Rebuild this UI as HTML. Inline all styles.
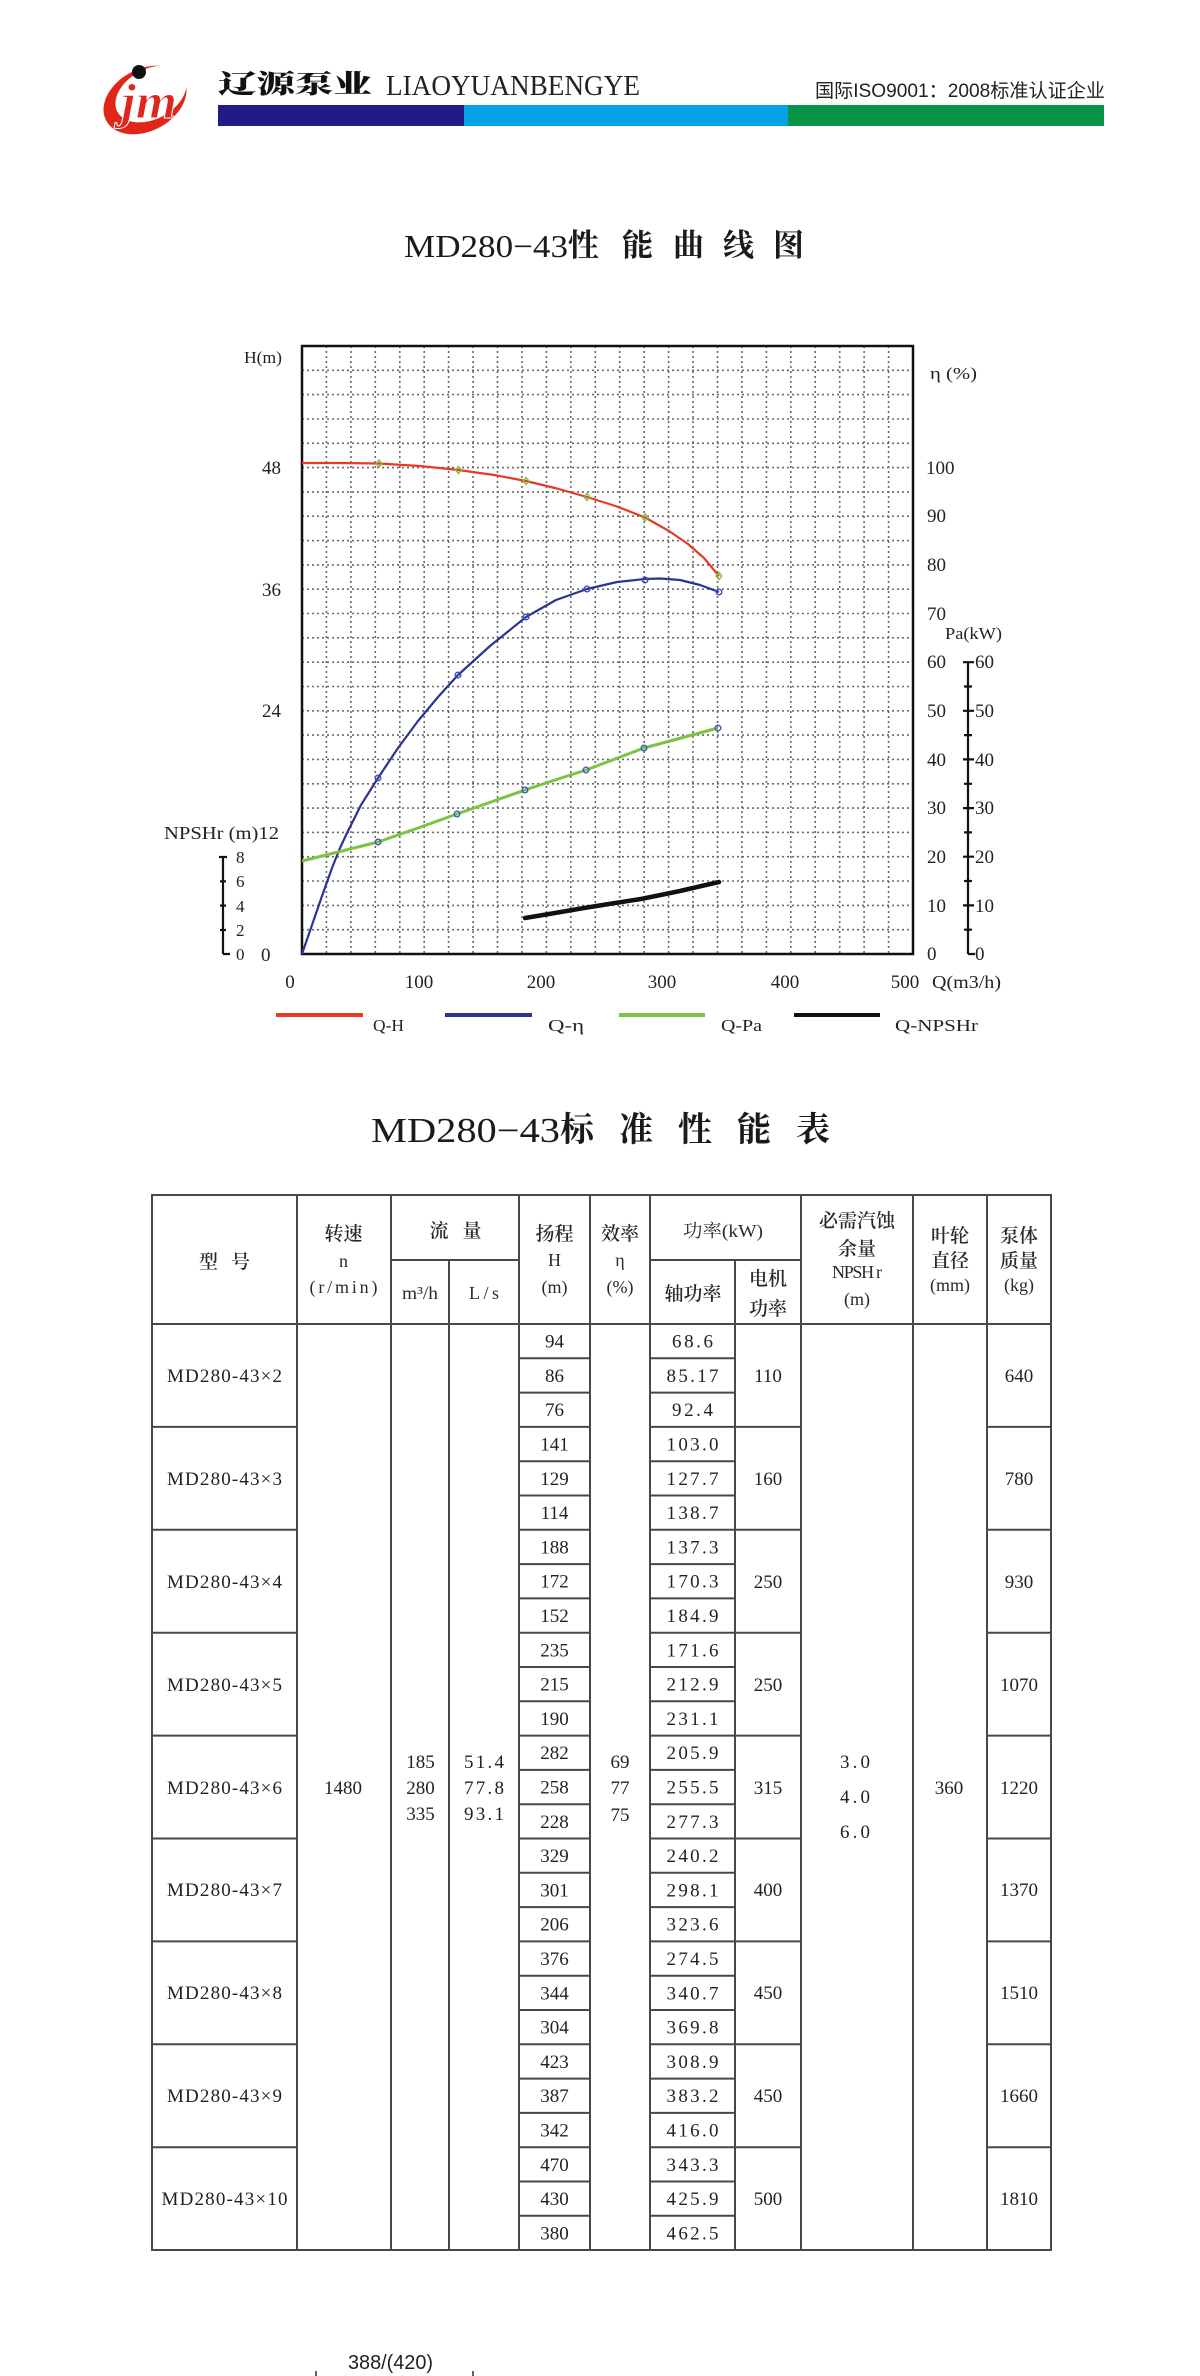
<!DOCTYPE html>
<html>
<head>
<meta charset="utf-8">
<style>
html,body{margin:0;padding:0;background:#fff;}
svg{display:block;}
.s{font-family:"Liberation Serif","Noto Serif CJK SC",serif;}
.c{font-family:"Liberation Serif","Noto Serif CJK SC",serif;}
</style>
</head>
<body>
<svg width="1200" height="2376" viewBox="0 0 1200 2376" xmlns="http://www.w3.org/2000/svg">
<rect width="1200" height="2376" fill="#fff"/>

<!-- ===== Header ===== -->
<g>
  <ellipse cx="145" cy="100" rx="44" ry="31" transform="rotate(-28 145 100)" fill="#e1251b"/>
  <ellipse cx="151" cy="94" rx="38" ry="25" transform="rotate(-28 151 94)" fill="#fff"/>
  <text x="121" y="118" font-family="Liberation Serif" font-style="italic" font-weight="bold" font-size="50" fill="#e1251b" stroke="#fff" stroke-width="1" textLength="56" lengthAdjust="spacingAndGlyphs">jm</text>
  <circle cx="139" cy="72" r="7" fill="#111"/>
</g>
<text x="218" y="93" font-family="Noto Serif CJK SC,serif" font-weight="900" font-size="26" fill="#111" textLength="154" lengthAdjust="spacingAndGlyphs">辽源泵业</text>
<text x="386" y="95" font-family="Liberation Serif,serif" font-size="29" fill="#222" textLength="254" lengthAdjust="spacingAndGlyphs">LIAOYUANBENGYE</text>
<text x="815" y="97" font-family="Liberation Sans,Noto Sans CJK SC,sans-serif" font-size="19" fill="#222" textLength="290" lengthAdjust="spacingAndGlyphs">国际ISO9001：2008标准认证企业</text>
<rect x="218" y="105" width="246" height="21" fill="#1f1c87"/>
<rect x="464" y="105" width="324" height="21" fill="#05a2e8"/>
<rect x="788" y="105" width="316" height="21" fill="#079447"/>

<!-- ===== Chart title ===== -->
<text x="404" y="257" class="s" font-size="32" fill="#1a1a1a" textLength="164" lengthAdjust="spacingAndGlyphs">MD280−43</text>
<g font-family="Noto Serif CJK SC,serif" font-weight="700" font-size="31" fill="#1a1a1a">
  <text x="568" y="256">性</text>
  <text x="622" y="256">能</text>
  <text x="673" y="256">曲</text>
  <text x="723" y="256">线</text>
  <text x="773" y="256">图</text>
</g>

<!-- ===== Chart grid ===== -->
<path fill="none" stroke="#6a6a6a" stroke-width="1.6" stroke-dasharray="2,3"
d="M326.4 346V954M350.9 346V954M375.3 346V954M399.8 346V954M424.2 346V954M448.6 346V954M473.1 346V954M497.5 346V954M522.0 346V954M546.4 346V954M570.8 346V954M595.3 346V954M619.7 346V954M644.2 346V954M668.6 346V954M693.0 346V954M717.5 346V954M741.9 346V954M766.4 346V954M790.8 346V954M815.2 346V954M839.7 346V954M864.1 346V954M888.6 346V954
M302 370.3H913M302 394.6H913M302 419.0H913M302 443.3H913M302 467.6H913M302 491.9H913M302 516.2H913M302 540.6H913M302 564.9H913M302 589.2H913M302 613.5H913M302 637.8H913M302 662.2H913M302 686.5H913M302 710.8H913M302 735.1H913M302 759.4H913M302 783.8H913M302 808.1H913M302 832.4H913M302 856.7H913M302 881.0H913M302 905.4H913M302 929.7H913"/>
<rect x="302" y="346" width="611" height="608" fill="none" stroke="#111" stroke-width="2.5"/>

<!-- ===== Curves ===== -->
<polyline fill="none" stroke="#e63a26" stroke-width="2.2" stroke-linejoin="round"
points="302,463 340,463 379,463.5 420,466 458.5,470 494,475 526,481 557,488.5 587,497 617,506.5 645,517.5 669,531 688,544 704,558 719,576"/>
<g fill="none" stroke="#7cc142" stroke-width="1.4">
  <path d="M379 460l3 3.5-3 3.5-3-3.5z"/><path d="M458.5 466.5l3 3.5-3 3.5-3-3.5z"/><path d="M526 477.5l3 3.5-3 3.5-3-3.5z"/>
  <path d="M587 493.5l3 3.5-3 3.5-3-3.5z"/><path d="M645 514l3 3.5-3 3.5-3-3.5z"/><path d="M719 572.5l3 3.5-3 3.5-3-3.5z"/>
</g>

<polyline fill="none" stroke="#2b3590" stroke-width="2.2" stroke-linejoin="round"
points="302,954 312,925 322,896 332,868 340,848 347,833 361,805 378,778 398,748 418,721 438,697 458,675 490,646 526,617 556,600 587,589 617,582 645,579 660,578.5 680,580 700,585 719,592"/>
<g fill="none" stroke="#3a4cb8" stroke-width="1.4">
  <circle cx="378" cy="778" r="2.8"/><circle cx="458" cy="675" r="2.8"/><circle cx="526" cy="617" r="2.8"/>
  <circle cx="587" cy="589" r="2.8"/><circle cx="645" cy="580" r="2.8"/><circle cx="719" cy="592" r="2.8"/>
</g>

<polyline fill="none" stroke="#7dc242" stroke-width="3" stroke-linejoin="round"
points="302,861 340,851.5 378,842 418,828 457,814 491,802 525,790 555,780 586,770 615,759 644,748 681,738 718,728"/>
<g fill="none" stroke="#3a5cc8" stroke-width="1.4">
  <circle cx="378" cy="842" r="2.8"/><circle cx="457" cy="814" r="2.8"/><circle cx="525" cy="790" r="2.8"/>
  <circle cx="586" cy="770" r="2.8"/><circle cx="644" cy="748" r="2.8"/><circle cx="718" cy="728" r="2.8"/>
</g>

<polyline fill="none" stroke="#111" stroke-width="4.5" stroke-linejoin="round" stroke-linecap="round"
points="525,918 555,913 584,908 612,903.5 641,899 680,891 719,882"/>

<!-- ===== Left axis labels ===== -->
<g class="s" font-size="19" fill="#222">
  <text x="244" y="363" font-size="17" textLength="38" lengthAdjust="spacingAndGlyphs">H(m)</text>
  <text x="281" y="474" text-anchor="end">48</text>
  <text x="281" y="596" text-anchor="end">36</text>
  <text x="281" y="717" text-anchor="end">24</text>
  <text x="164" y="839" font-size="18" textLength="115" lengthAdjust="spacingAndGlyphs">NPSHr (m)12</text>
  <text x="261" y="961">0</text>
  <text x="236" y="863" font-size="17">8</text>
  <text x="236" y="887" font-size="17">6</text>
  <text x="236" y="912" font-size="17">4</text>
  <text x="236" y="936" font-size="17">2</text>
  <text x="236" y="960" font-size="17">0</text>
</g>
<path d="M223 857V954M219 857H227M220 881.3H226M220 905.6H226M220 930H226M223 954H230" stroke="#111" stroke-width="2.2" fill="none"/>

<!-- ===== Right axis labels ===== -->
<g class="s" font-size="19" fill="#222">
  <text x="930" y="379" font-size="17" textLength="47" lengthAdjust="spacingAndGlyphs">η (%)</text>
  <text x="926" y="474">100</text>
  <text x="927" y="522">90</text>
  <text x="927" y="571">80</text>
  <text x="927" y="620">70</text>
  <text x="927" y="668">60</text>
  <text x="927" y="717">50</text>
  <text x="927" y="766">40</text>
  <text x="927" y="814">30</text>
  <text x="927" y="863">20</text>
  <text x="927" y="912">10</text>
  <text x="927" y="960">0</text>
  <text x="945" y="639" font-size="17" textLength="57" lengthAdjust="spacingAndGlyphs">Pa(kW)</text>
  <text x="975" y="668">60</text>
  <text x="975" y="717">50</text>
  <text x="975" y="766">40</text>
  <text x="975" y="814">30</text>
  <text x="975" y="863">20</text>
  <text x="975" y="912">10</text>
  <text x="975" y="960">0</text>
</g>
<path d="M968 662V954M963 662.2H974M964 686.5H972M963 710.8H974M964 735.1H972M963 759.4H974M964 783.8H972M963 808.1H974M964 832.4H972M963 856.7H974M964 881H972M963 905.4H974M964 929.7H972M968 954H975" stroke="#111" stroke-width="2.2" fill="none"/>

<!-- ===== X axis labels ===== -->
<g class="s" font-size="19" fill="#222" text-anchor="middle">
  <text x="290" y="988">0</text>
  <text x="419" y="988">100</text>
  <text x="541" y="988">200</text>
  <text x="662" y="988">300</text>
  <text x="785" y="988">400</text>
  <text x="905" y="988">500</text>
</g>
<text x="932" y="988" class="s" font-size="18" fill="#222" textLength="69" lengthAdjust="spacingAndGlyphs">Q(m3/h)</text>

<!-- ===== Legend ===== -->
<rect x="276" y="1013" width="87" height="4" fill="#e63a26"/>
<rect x="445" y="1013" width="87" height="4" fill="#2b3590"/>
<rect x="619" y="1013" width="86" height="4" fill="#7dc242"/>
<rect x="794" y="1013" width="86" height="4" fill="#111"/>
<g class="s" font-size="17" fill="#222">
  <text x="373" y="1031" textLength="31" lengthAdjust="spacingAndGlyphs">Q-H</text>
  <text x="548" y="1031" textLength="36" lengthAdjust="spacingAndGlyphs">Q-η</text>
  <text x="721" y="1031" textLength="41" lengthAdjust="spacingAndGlyphs">Q-Pa</text>
  <text x="895" y="1031" textLength="83" lengthAdjust="spacingAndGlyphs">Q-NPSHr</text>
</g>

<!-- ===== Table title ===== -->
<text x="371" y="1142" class="s" font-size="35" fill="#1a1a1a" textLength="189" lengthAdjust="spacingAndGlyphs">MD280−43</text>
<g font-family="Noto Serif CJK SC,serif" font-weight="700" font-size="34" fill="#1a1a1a">
  <text x="560" y="1141">标</text>
  <text x="619" y="1141">准</text>
  <text x="678" y="1141">性</text>
  <text x="737" y="1141">能</text>
  <text x="796" y="1141">表</text>
</g>

<!-- ===== Table lines ===== -->
<g stroke="#484848" stroke-width="2" fill="none">
  <rect x="152" y="1195" width="899" height="1055"/>
  <path d="M297 1195V2250M391 1195V2250M519 1195V2250M590 1195V2250M650 1195V2250M801 1195V2250M913 1195V2250M987 1195V2250
  M449 1260V2250M735 1260V2250
  M391 1260H519M650 1260H801M152 1324H1051"/>
  <!-- group lines -->
  <path d="M152 1426.9H297M735 1426.9H801M987 1426.9H1051
  M152 1529.8H297M735 1529.8H801M987 1529.8H1051
  M152 1632.7H297M735 1632.7H801M987 1632.7H1051
  M152 1735.6H297M735 1735.6H801M987 1735.6H1051
  M152 1838.5H297M735 1838.5H801M987 1838.5H1051
  M152 1941.4H297M735 1941.4H801M987 1941.4H1051
  M152 2044.3H297M735 2044.3H801M987 2044.3H1051
  M152 2147.2H297M735 2147.2H801M987 2147.2H1051"/>
  <!-- row lines in H and shaft power columns -->
  <path d="M519 1358.3H590M650 1358.3H735M519 1392.6H590M650 1392.6H735M519 1426.9H590M650 1426.9H735
  M519 1461.2H590M650 1461.2H735M519 1495.5H590M650 1495.5H735M519 1529.8H590M650 1529.8H735
  M519 1564.1H590M650 1564.1H735M519 1598.4H590M650 1598.4H735M519 1632.7H590M650 1632.7H735
  M519 1667.0H590M650 1667.0H735M519 1701.3H590M650 1701.3H735M519 1735.6H590M650 1735.6H735
  M519 1769.9H590M650 1769.9H735M519 1804.2H590M650 1804.2H735M519 1838.5H590M650 1838.5H735
  M519 1872.8H590M650 1872.8H735M519 1907.1H590M650 1907.1H735M519 1941.4H590M650 1941.4H735
  M519 1975.7H590M650 1975.7H735M519 2010.0H590M650 2010.0H735M519 2044.3H590M650 2044.3H735
  M519 2078.6H590M650 2078.6H735M519 2112.9H590M650 2112.9H735M519 2147.2H590M650 2147.2H735
  M519 2181.5H590M650 2181.5H735M519 2215.8H590M650 2215.8H735"/>
</g>

<!-- ===== Table header text ===== -->
<g font-family="Noto Serif CJK SC,serif" font-weight="600" font-size="19" fill="#2a2a2a" text-anchor="middle">
  <text x="208.5" y="1268">型</text><text x="240.5" y="1268">号</text>
  <text x="343.5" y="1240">转速</text>
  <text x="439" y="1237">流</text><text x="472" y="1237">量</text>
  <text x="554.5" y="1240">扬程</text>
  <text x="620" y="1240">效率</text>
  <text x="693" y="1300">轴功率</text>
  <text x="768" y="1285">电机</text>
  <text x="768" y="1315">功率</text>
  <text x="857" y="1227">必需汽蚀</text>
  <text x="857" y="1255">余量</text>
  <text x="950" y="1242">叶轮</text>
  <text x="950" y="1267">直径</text>
  <text x="1019" y="1242">泵体</text>
  <text x="1019" y="1267">质量</text>
</g>
<g class="s" font-size="18" fill="#2a2a2a" text-anchor="middle">
  <text x="343.5" y="1267">n</text>
  <text x="343.5" y="1293" textLength="68" lengthAdjust="spacing">(r/min)</text>
  <text x="420" y="1299" textLength="36" lengthAdjust="spacingAndGlyphs">m³/h</text>
  <text x="484" y="1299" textLength="30" lengthAdjust="spacing">L/s</text>
  <text x="554.5" y="1266">H</text>
  <text x="554.5" y="1293">(m)</text>
  <text x="620" y="1266">η</text>
  <text x="620" y="1293">(%)</text>
  <text x="723" y="1237" textLength="80" lengthAdjust="spacingAndGlyphs">功率(kW)</text>
  <text x="857" y="1278" textLength="50" lengthAdjust="spacing">NPSH r</text>
  <text x="857" y="1305">(m)</text>
  <text x="950" y="1291">(mm)</text>
  <text x="1019" y="1291">(kg)</text>
</g>

<!-- ===== Table body text ===== -->
<g class="s" font-size="19" fill="#222" text-anchor="middle">
  <!-- models -->
  <text x="224.5" y="1382" textLength="115" lengthAdjust="spacing">MD280-43×2</text>
  <text x="224.5" y="1485" textLength="115" lengthAdjust="spacing">MD280-43×3</text>
  <text x="224.5" y="1588" textLength="115" lengthAdjust="spacing">MD280-43×4</text>
  <text x="224.5" y="1691" textLength="115" lengthAdjust="spacing">MD280-43×5</text>
  <text x="224.5" y="1794" textLength="115" lengthAdjust="spacing">MD280-43×6</text>
  <text x="224.5" y="1896" textLength="115" lengthAdjust="spacing">MD280-43×7</text>
  <text x="224.5" y="1999" textLength="115" lengthAdjust="spacing">MD280-43×8</text>
  <text x="224.5" y="2102" textLength="115" lengthAdjust="spacing">MD280-43×9</text>
  <text x="224.5" y="2205" textLength="126" lengthAdjust="spacing">MD280-43×10</text>

  <!-- merged -->
  <text x="343" y="1794">1480</text>
  <text x="420.5" y="1768">185</text>
  <text x="420.5" y="1794">280</text>
  <text x="420.5" y="1820">335</text>
  <text x="484" y="1768" textLength="40" lengthAdjust="spacing">51.4</text>
  <text x="484" y="1794" textLength="40" lengthAdjust="spacing">77.8</text>
  <text x="484" y="1820" textLength="40" lengthAdjust="spacing">93.1</text>
  <text x="620" y="1768">69</text>
  <text x="620" y="1794">77</text>
  <text x="620" y="1821">75</text>
  <text x="855" y="1768" textLength="30" lengthAdjust="spacing">3.0</text>
  <text x="855" y="1803" textLength="30" lengthAdjust="spacing">4.0</text>
  <text x="855" y="1838" textLength="30" lengthAdjust="spacing">6.0</text>
  <text x="949" y="1794">360</text>

  <!-- H column -->
  <text x="554.5" y="1347.6">94</text>
  <text x="554.5" y="1381.9">86</text>
  <text x="554.5" y="1416.2">76</text>
  <text x="554.5" y="1450.5">141</text>
  <text x="554.5" y="1484.8">129</text>
  <text x="554.5" y="1519.1">114</text>
  <text x="554.5" y="1553.4">188</text>
  <text x="554.5" y="1587.7">172</text>
  <text x="554.5" y="1622.0">152</text>
  <text x="554.5" y="1656.3">235</text>
  <text x="554.5" y="1690.6">215</text>
  <text x="554.5" y="1724.9">190</text>
  <text x="554.5" y="1759.2">282</text>
  <text x="554.5" y="1793.5">258</text>
  <text x="554.5" y="1827.8">228</text>
  <text x="554.5" y="1862.1">329</text>
  <text x="554.5" y="1896.4">301</text>
  <text x="554.5" y="1930.7">206</text>
  <text x="554.5" y="1965.0">376</text>
  <text x="554.5" y="1999.3">344</text>
  <text x="554.5" y="2033.6">304</text>
  <text x="554.5" y="2067.9">423</text>
  <text x="554.5" y="2102.2">387</text>
  <text x="554.5" y="2136.5">342</text>
  <text x="554.5" y="2170.8">470</text>
  <text x="554.5" y="2205.1">430</text>
  <text x="554.5" y="2239.4">380</text>
</g>
<g class="s" font-size="19" fill="#222" text-anchor="middle">
  <!-- shaft power -->
  <text x="692.5" y="1347.6" textLength="41" lengthAdjust="spacing">68.6</text>
  <text x="692.5" y="1381.9" textLength="52" lengthAdjust="spacing">85.17</text>
  <text x="692.5" y="1416.2" textLength="41" lengthAdjust="spacing">92.4</text>
  <text x="692.5" y="1450.5" textLength="52" lengthAdjust="spacing">103.0</text>
  <text x="692.5" y="1484.8" textLength="52" lengthAdjust="spacing">127.7</text>
  <text x="692.5" y="1519.1" textLength="52" lengthAdjust="spacing">138.7</text>
  <text x="692.5" y="1553.4" textLength="52" lengthAdjust="spacing">137.3</text>
  <text x="692.5" y="1587.7" textLength="52" lengthAdjust="spacing">170.3</text>
  <text x="692.5" y="1622.0" textLength="52" lengthAdjust="spacing">184.9</text>
  <text x="692.5" y="1656.3" textLength="52" lengthAdjust="spacing">171.6</text>
  <text x="692.5" y="1690.6" textLength="52" lengthAdjust="spacing">212.9</text>
  <text x="692.5" y="1724.9" textLength="52" lengthAdjust="spacing">231.1</text>
  <text x="692.5" y="1759.2" textLength="52" lengthAdjust="spacing">205.9</text>
  <text x="692.5" y="1793.5" textLength="52" lengthAdjust="spacing">255.5</text>
  <text x="692.5" y="1827.8" textLength="52" lengthAdjust="spacing">277.3</text>
  <text x="692.5" y="1862.1" textLength="52" lengthAdjust="spacing">240.2</text>
  <text x="692.5" y="1896.4" textLength="52" lengthAdjust="spacing">298.1</text>
  <text x="692.5" y="1930.7" textLength="52" lengthAdjust="spacing">323.6</text>
  <text x="692.5" y="1965.0" textLength="52" lengthAdjust="spacing">274.5</text>
  <text x="692.5" y="1999.3" textLength="52" lengthAdjust="spacing">340.7</text>
  <text x="692.5" y="2033.6" textLength="52" lengthAdjust="spacing">369.8</text>
  <text x="692.5" y="2067.9" textLength="52" lengthAdjust="spacing">308.9</text>
  <text x="692.5" y="2102.2" textLength="52" lengthAdjust="spacing">383.2</text>
  <text x="692.5" y="2136.5" textLength="52" lengthAdjust="spacing">416.0</text>
  <text x="692.5" y="2170.8" textLength="52" lengthAdjust="spacing">343.3</text>
  <text x="692.5" y="2205.1" textLength="52" lengthAdjust="spacing">425.9</text>
  <text x="692.5" y="2239.4" textLength="52" lengthAdjust="spacing">462.5</text>

  <!-- motor power -->
  <text x="768" y="1382">110</text>
  <text x="768" y="1485">160</text>
  <text x="768" y="1588">250</text>
  <text x="768" y="1691">250</text>
  <text x="768" y="1794">315</text>
  <text x="768" y="1896">400</text>
  <text x="768" y="1999">450</text>
  <text x="768" y="2102">450</text>
  <text x="768" y="2205">500</text>

  <!-- mass -->
  <text x="1019" y="1382">640</text>
  <text x="1019" y="1485">780</text>
  <text x="1019" y="1588">930</text>
  <text x="1019" y="1691">1070</text>
  <text x="1019" y="1794">1220</text>
  <text x="1019" y="1896">1370</text>
  <text x="1019" y="1999">1510</text>
  <text x="1019" y="2102">1660</text>
  <text x="1019" y="2205">1810</text>
</g>

<!-- ===== Footer ===== -->
<text x="348" y="2369" font-family="Liberation Sans,sans-serif" font-size="20" fill="#222" textLength="85" lengthAdjust="spacingAndGlyphs">388/(420)</text>
<path d="M316 2371V2376M473 2371V2376" stroke="#333" stroke-width="1.5"/>
</svg>
</body>
</html>
